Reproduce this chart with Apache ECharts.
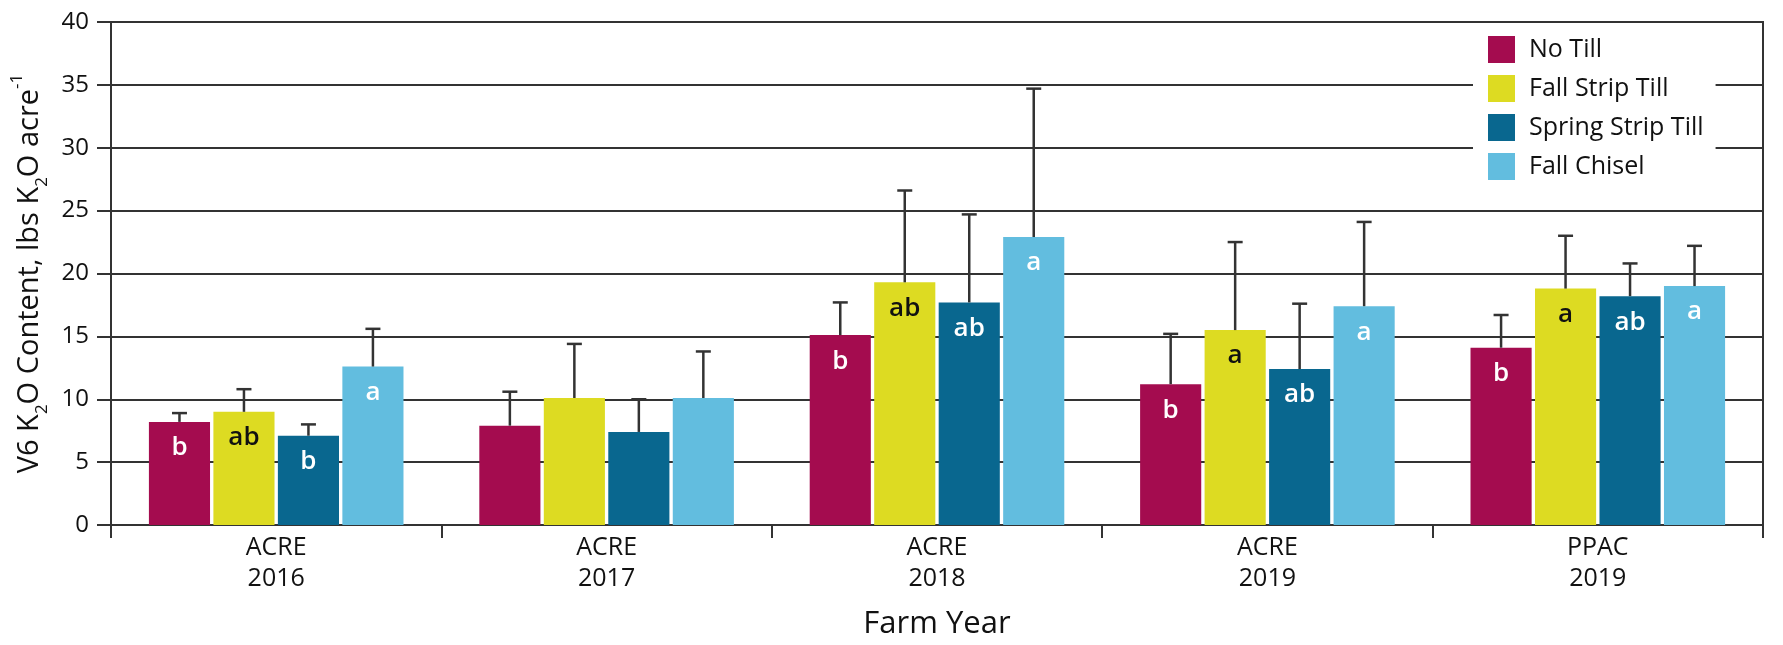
<!DOCTYPE html>
<html>
<head>
<meta charset="utf-8">
<script src="https://cdn.jsdelivr.net/npm/echarts@6/dist/echarts.min.js"></script>
<style>
  html, body { margin: 0; padding: 0; background: #ffffff; }
  #chart { width: 1783px; height: 645px; }
</style>
</head>
<body>
<div id="chart"></div>
<script>
// ---- data ----
const categories = ['ACRE\n2016', 'ACRE\n2017', 'ACRE\n2018', 'ACRE\n2019', 'PPAC\n2019'];
const seriesNames = ['No Till', 'Fall Strip Till', 'Spring Strip Till', 'Fall Chisel'];

const noTill        = [8.2, 7.9, 15.1, 11.2, 14.1];
const fallStripTill = [9.0, 10.1, 19.3, 15.5, 18.8];
const springStripTill = [7.1, 7.4, 17.7, 12.4, 18.2];
const fallChisel    = [12.6, 10.1, 22.9, 17.4, 19.0];

const noTillSE        = [0.7, 2.7, 2.6, 4.0, 2.6];
const fallStripTillSE = [1.8, 4.3, 7.3, 7.0, 4.2];
const springStripTillSE = [0.9, 2.6, 7.0, 5.2, 2.6];
const fallChiselSE    = [3.0, 3.7, 11.8, 6.7, 3.2];

const noTillLetters        = ['b', '', 'b', 'b', 'b'];
const fallStripTillLetters = ['ab', '', 'ab', 'a', 'a'];
const springStripTillLetters = ['b', '', 'ab', 'ab', 'ab'];
const fallChiselLetters    = ['a', '', 'a', 'a', 'a'];

const yTicks = [0, 5, 10, 15, 20, 25, 30, 35, 40];

// ---- styling ----
const FONT = 'Open Sans';
const colors = ['#A40C4F', '#DDDB22', '#09678F', '#62BDDF'];
const letterColors = ['#ffffff', '#111111', '#ffffff', '#ffffff'];
const BAR_W = 0.185;   // fraction of category band
const BAR_GAP = 0.055; // fraction of bar width

const values = [noTill, fallStripTill, springStripTill, fallChisel];
const errors = [noTillSE, fallStripTillSE, springStripTillSE, fallChiselSE];
const letters = [noTillLetters, fallStripTillLetters, springStripTillLetters, fallChiselLetters];

const barSeries = seriesNames.map((name, s) => ({
  name: name,
  type: 'bar',
  barWidth: (BAR_W * 100) + '%',
  barGap: (BAR_GAP * 100) + '%',
  itemStyle: { color: colors[s] },
  data: values[s],
  z: 2,
  label: {
    show: true,
    position: 'insideTop',
    distance: 13,
    fontFamily: FONT,
    fontSize: 26,
    fontWeight: 600,
    color: letterColors[s],
    formatter: (p) => letters[s][p.dataIndex]
  },
  emphasis: { disabled: true }
}));

const errData = [];
values.forEach((arr, s) => arr.forEach((v, c) => errData.push([c, s, v, errors[s][c]])));

function renderErr(params, api) {
  const c = api.value(0), s = api.value(1), v = api.value(2), e = api.value(3);
  const band = api.size([1, 0])[0];
  const bw = band * BAR_W;
  const gap = bw * BAR_GAP;
  const total = 4 * bw + 3 * gap;
  const base = api.coord([c, v]);
  const top = api.coord([c, v + e]);
  const cx = base[0] - total / 2 + s * (bw + gap) + bw / 2;
  const style = { stroke: '#333333', lineWidth: 2.5 };
  return {
    type: 'group',
    children: [
      { type: 'line', shape: { x1: cx, y1: base[1], x2: cx, y2: top[1] }, style: style },
      { type: 'line', shape: { x1: cx - 7.5, y1: top[1], x2: cx + 7.5, y2: top[1] }, style: style }
    ]
  };
}

const chart = echarts.init(document.getElementById('chart'), null, { renderer: 'canvas' });
chart.setOption({
  backgroundColor: '#ffffff',
  animation: false,
  textStyle: { fontFamily: FONT },
  grid: {
    left: 111, right: 20, top: 22, bottom: 118,
    show: true, borderColor: '#333333', borderWidth: 2, backgroundColor: 'transparent'
  },
  legend: {
    data: seriesNames,
    orient: 'vertical',
    left: 1473,
    top: 26,
    backgroundColor: '#ffffff',
    padding: [10, 12, 10, 15],
    itemWidth: 27,
    itemHeight: 27,
    itemGap: 12,
    icon: 'rect',
    selectedMode: false,
    textStyle: { fontFamily: FONT, fontSize: 25, color: '#111111', padding: [0, 0, 0, 9] },
    z: 10
  },
  xAxis: {
    type: 'category',
    data: categories,
    name: 'Farm Year',
    nameLocation: 'middle',
    nameGap: 84,
    nameTextStyle: { fontFamily: FONT, fontSize: 31, color: '#111111' },
    axisLine: { lineStyle: { color: '#333333', width: 2 } },
    axisTick: { show: true, length: 13, lineStyle: { color: '#333333', width: 2 } },
    axisLabel: { fontFamily: FONT, fontSize: 25, lineHeight: 31, color: '#111111', margin: 7 }
  },
  yAxis: {
    type: 'value',
    min: yTicks[0],
    max: yTicks[yTicks.length - 1],
    interval: yTicks[1] - yTicks[0],
    name: 'V6 K{sub|2}O Content, lbs K{sub|2}O acre{sup|-1}',
    nameLocation: 'middle',
    nameGap: 60,
    nameRotate: 90,
    nameTextStyle: {
      fontFamily: FONT, fontSize: 29, color: '#111111', lineHeight: 42,
      rich: {
        sub: { fontFamily: FONT, fontSize: 17, lineHeight: 17, verticalAlign: 'bottom', color: '#111111' },
        sup: { fontFamily: FONT, fontSize: 17, lineHeight: 17, verticalAlign: 'top', color: '#111111' }
      }
    },
    axisLine: { show: true, lineStyle: { color: '#333333', width: 2 } },
    axisTick: { show: true, length: 14, lineStyle: { color: '#333333', width: 2 } },
    axisLabel: { fontFamily: FONT, fontSize: 24, color: '#111111', margin: 22 },
    splitLine: { show: true, lineStyle: { color: '#333333', width: 2 } }
  },
  series: barSeries.concat([{
    type: 'custom',
    name: 'SE',
    renderItem: renderErr,
    data: errData,
    encode: { x: 0, y: 2 },
    z: 5,
    silent: true
  }])
});
</script>
</body>
</html>
